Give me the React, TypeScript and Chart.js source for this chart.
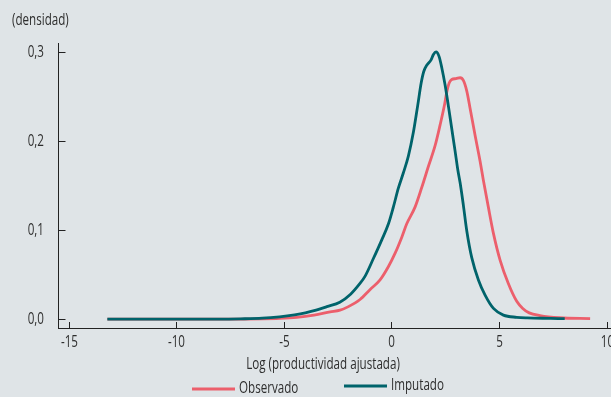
import React, { useEffect, useRef } from "react";
import { Chart, registerables } from "chart.js";

Chart.register(...registerables);

const xTicks = [-15, -10, -5, 0, 5, 10];
const yTicks = [0, 0.1, 0.2, 0.3];

const imputadoX = [-13.2, -10, -8, -7, -6, -5.2, -4.5, -4, -3.5, -3, -2.4, -1.9, -1.5, -1.23, -0.84, -0.45, -0.14, 0.09, 0.32, 0.55, 0.785, 1.02, 1.22, 1.38, 1.5, 1.64, 1.84, 1.95, 2.07, 2.21, 2.34, 2.49, 2.64, 2.8, 2.96, 3.08, 3.19, 3.34, 3.5, 3.73, 4.04, 4.35, 4.74, 5.2, 5.82, 6.3, 7.4, 8.05];
const imputadoY = [0, 0, 0, 0.0003, 0.001, 0.0026, 0.0048, 0.007, 0.01, 0.014, 0.019, 0.028, 0.039, 0.048, 0.068, 0.089, 0.107, 0.126, 0.147, 0.164, 0.183, 0.21, 0.24, 0.265, 0.278, 0.285, 0.291, 0.297, 0.3, 0.295, 0.282, 0.263, 0.24, 0.214, 0.188, 0.168, 0.153, 0.128, 0.099, 0.069, 0.044, 0.027, 0.012, 0.0045, 0.002, 0.0013, 0.0008, 0.0005];

const observadoX = [-13.2, -8, -6, -5.2, -4.4, -3.6, -2.85, -2.39, -2.0, -1.46, -1.0, -0.53, -0.14, 0.17, 0.48, 0.71, 1.1, 1.41, 1.71, 2.03, 2.26, 2.46, 2.57, 2.68, 2.8, 3.0, 3.19, 3.34, 3.5, 3.65, 3.88, 4.12, 4.27, 4.5, 4.74, 5.05, 5.43, 5.82, 6.1, 6.4, 6.9, 7.8, 9.23];
const observadoY = [0, 0, 0.0003, 0.0008, 0.002, 0.0045, 0.008, 0.01, 0.014, 0.022, 0.033, 0.044, 0.059, 0.074, 0.092, 0.107, 0.126, 0.148, 0.171, 0.195, 0.218, 0.24, 0.255, 0.265, 0.269, 0.27, 0.271, 0.268, 0.256, 0.237, 0.207, 0.177, 0.156, 0.126, 0.096, 0.066, 0.04, 0.02, 0.012, 0.007, 0.004, 0.0015, 0.0005];

const seriesNames = ["Observado", "Imputado"];
const yAxisTitle = "(densidad)";
const xAxisTitle = "Log (productividad ajustada)";

const TEAL = "#00636b";
const SALMON = "#ec5f6c";
const BG = "#dfe4e7";
const TEXT = "#2e2e2e";
const FONT = '"Open Sans", "Noto Sans", sans-serif';
const SX = 0.75;

function drawText(ctx: any, text: string, x: number, y: number, align: string, size: number) {
  ctx.save();
  ctx.font = size + "px " + FONT;
  ctx.textBaseline = "middle";
  ctx.textAlign = align;
  ctx.translate(x, y);
  ctx.scale(SX, 1);
  ctx.fillText(text, 0, 0);
  ctx.restore();
}

const fmtY = (v: number) => v.toFixed(1).replace(".", ",");

const overlay = {
  id: "overlay",
  afterDraw(chart: any) {
    const ctx = chart.ctx;
    const xs = chart.scales.x;
    const ys = chart.scales.y;
    const area = chart.chartArea;
    ctx.save();
    ctx.strokeStyle = "#222";
    ctx.lineWidth = 1;
    ctx.fillStyle = TEXT;
    yTicks.forEach((v) => {
      const py = Math.round(ys.getPixelForValue(v)) + 0.5;
      ctx.beginPath();
      ctx.moveTo(area.left, py);
      ctx.lineTo(area.left + 7, py);
      ctx.stroke();
      drawText(ctx, fmtY(v), 44, py, "right", 15.5);
    });
    xTicks.forEach((v) => {
      const px = Math.round(xs.getPixelForValue(v)) + 0.5;
      ctx.beginPath();
      ctx.moveTo(px, area.bottom);
      ctx.lineTo(px, area.bottom - 6);
      ctx.stroke();
      drawText(ctx, String(v), px, area.bottom + 15, "center", 15.5);
    });
    drawText(ctx, yAxisTitle, 12, 21, "left", 15.5);
    drawText(ctx, xAxisTitle, 323, 365, "center", 15.5);
    const items = [
      { name: seriesNames[0], color: SALMON, x: 192, y: 389 },
      { name: seriesNames[1], color: TEAL, x: 344, y: 386 },
    ];
    items.forEach((it) => {
      ctx.strokeStyle = it.color;
      ctx.lineWidth = 3;
      ctx.beginPath();
      ctx.moveTo(it.x, it.y);
      ctx.lineTo(it.x + 43, it.y);
      ctx.stroke();
      drawText(ctx, it.name, it.x + 47, it.y, "left", 15.5);
    });
    ctx.restore();
  },
};

export default function App() {
  const ref = useRef<HTMLCanvasElement>(null);
  useEffect(() => {
    document.body.style.margin = "0";
    document.body.style.background = BG;
    document.body.style.overflow = "hidden";
    const toPts = (xa: number[], ya: number[]) => xa.map((x, i) => ({ x, y: ya[i] }));
    const chart = new Chart(ref.current!, {
      type: "scatter",
      data: {
        datasets: [
          {
            label: seriesNames[1],
            data: toPts(imputadoX, imputadoY),
            showLine: true,
            borderColor: TEAL,
            backgroundColor: TEAL,
            borderWidth: 2.8,
            pointRadius: 0,
            cubicInterpolationMode: "monotone",
          },
          {
            label: seriesNames[0],
            data: toPts(observadoX, observadoY),
            showLine: true,
            borderColor: SALMON,
            backgroundColor: SALMON,
            borderWidth: 2.8,
            pointRadius: 0,
            cubicInterpolationMode: "monotone",
          },
        ],
      },
      plugins: [overlay],
      options: {
        animation: false,
        responsive: false,
        maintainAspectRatio: false,
        layout: { padding: { top: 43, right: 29, bottom: 0, left: 0 } },
        plugins: { legend: { display: false }, tooltip: { enabled: false } },
        scales: {
          x: {
            type: "linear",
            min: -15.47,
            max: 10.2,
            afterBuildTicks: (s: any) => {
              s.ticks = xTicks.map((v) => ({ value: v }));
            },
            afterFit: (s: any) => {
              s.height = 69;
            },
            grid: { display: false, drawTicks: false },
            border: { display: true, color: "#222", width: 1 },
            ticks: { display: false },
          },
          y: {
            min: -0.01,
            max: 0.31,
            afterBuildTicks: (s: any) => {
              s.ticks = yTicks.map((v) => ({ value: v }));
            },
            afterFit: (s: any) => {
              s.width = 58.5;
            },
            grid: { display: false, drawTicks: false },
            border: { display: true, color: "#222", width: 1 },
            ticks: { display: false },
          },
        },
      },
    });
    return () => chart.destroy();
  }, []);
  return (
    <div style={{ width: 611, height: 397, overflow: "hidden", background: BG }}>
      <canvas ref={ref} width={640} height={397} style={{ display: "block", width: 640, height: 397 }} />
    </div>
  );
}
